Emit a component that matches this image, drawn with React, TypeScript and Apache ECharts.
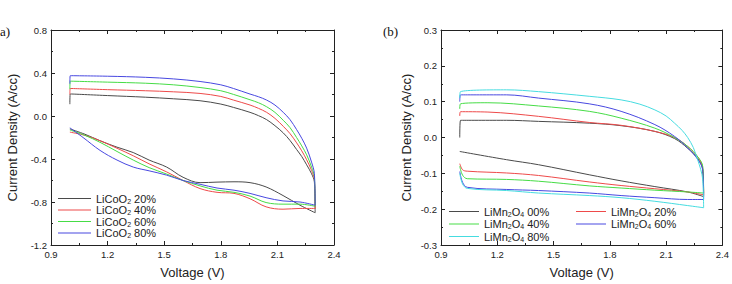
import React, { useEffect, useRef } from "react";
import * as echarts from "echarts";

type Pt = [number, number];

// ---------- (a) LiCoO2 cells: forward sweep 1.0 -> 2.3 V, reverse sweep 2.3 -> 1.0 V ----------
const lco20Fwd: Pt[] = [[1.0, 0.11], [1.002, 0.205], [1.2, 0.19], [1.4, 0.175], [1.55, 0.16], [1.69, 0.142], [1.8, 0.111], [1.867, 0.08], [1.955, 0.034], [2.0, 0.003], [2.043, -0.034], [2.087, -0.09], [2.131, -0.157], [2.167, -0.228], [2.202, -0.312], [2.229, -0.377], [2.255, -0.454], [2.281, -0.537], [2.296, -0.614], [2.3, -0.9]];
const lco20Rev: Pt[] = [[2.22, -0.83], [2.13, -0.74], [2.04, -0.66], [1.955, -0.62], [1.87, -0.612], [1.78, -0.615], [1.69, -0.62], [1.6, -0.57], [1.513, -0.475], [1.42, -0.41], [1.336, -0.34], [1.25, -0.29], [1.16, -0.23], [1.08, -0.17], [1.0, -0.12]];

const lco40Fwd: Pt[] = [[1.0, 0.2], [1.002, 0.256], [1.2, 0.245], [1.4, 0.235], [1.55, 0.225], [1.69, 0.21], [1.8, 0.182], [1.867, 0.148], [1.955, 0.102], [2.0, 0.071], [2.043, 0.034], [2.087, -0.022], [2.131, -0.096], [2.167, -0.164], [2.202, -0.25], [2.229, -0.324], [2.255, -0.407], [2.281, -0.506], [2.296, -0.59], [2.3, -0.86]];
const lco40Rev: Pt[] = [[2.22, -0.86], [2.13, -0.867], [2.04, -0.845], [1.955, -0.77], [1.87, -0.72], [1.78, -0.71], [1.69, -0.675], [1.6, -0.6], [1.513, -0.52], [1.42, -0.445], [1.336, -0.37], [1.25, -0.3], [1.16, -0.23], [1.08, -0.18], [1.0, -0.15]];

const lco60Fwd: Pt[] = [[1.0, 0.25], [1.002, 0.324], [1.2, 0.315], [1.4, 0.305], [1.55, 0.29], [1.69, 0.265], [1.8, 0.235], [1.867, 0.201], [1.955, 0.151], [2.0, 0.123], [2.043, 0.086], [2.087, 0.034], [2.131, -0.04], [2.167, -0.108], [2.202, -0.201], [2.229, -0.278], [2.255, -0.361], [2.281, -0.475], [2.296, -0.568], [2.3, -0.84]];
const lco60Rev: Pt[] = [[2.22, -0.82], [2.13, -0.82], [2.04, -0.805], [1.955, -0.745], [1.87, -0.71], [1.78, -0.69], [1.69, -0.65], [1.6, -0.6], [1.513, -0.54], [1.42, -0.48], [1.336, -0.41], [1.25, -0.33], [1.16, -0.245], [1.08, -0.18], [1.0, -0.13]];

const lco80Fwd: Pt[] = [[1.0, 0.3], [1.002, 0.375], [1.2, 0.37], [1.4, 0.36], [1.55, 0.345], [1.69, 0.321], [1.8, 0.29], [1.867, 0.256], [1.955, 0.204], [2.0, 0.179], [2.043, 0.148], [2.087, 0.102], [2.131, 0.034], [2.167, -0.034], [2.202, -0.127], [2.229, -0.207], [2.255, -0.299], [2.281, -0.429], [2.296, -0.537], [2.3, -0.83]];
const lco80Rev: Pt[] = [[2.22, -0.8], [2.13, -0.79], [2.04, -0.76], [1.955, -0.72], [1.87, -0.69], [1.78, -0.67], [1.69, -0.635], [1.6, -0.6], [1.513, -0.55], [1.42, -0.51], [1.336, -0.475], [1.25, -0.41], [1.16, -0.32], [1.07, -0.2], [1.0, -0.11]];

// ---------- (b) LiMn2O4 cells ----------
const lmo00Fwd: Pt[] = [[1.0, 0.0], [1.004, 0.048], [1.25, 0.048], [1.42, 0.045], [1.69, 0.04], [1.86, 0.033], [2.04, 0.017], [2.145, -0.003], [2.215, -0.03], [2.27, -0.06], [2.295, -0.09], [2.3, -0.165]];
const lmo00Rev: Pt[] = [[2.215, -0.152], [2.04, -0.137], [1.86, -0.121], [1.69, -0.104], [1.42, -0.076], [1.25, -0.062], [1.0, -0.039]];

const lmo20Fwd: Pt[] = [[1.0, 0.06], [1.004, 0.072], [1.15, 0.071], [1.42, 0.059], [1.69, 0.042], [1.86, 0.034], [2.04, 0.017], [2.145, 0.0], [2.215, -0.025], [2.27, -0.055], [2.295, -0.085], [2.3, -0.16]];
const lmo20Rev: Pt[] = [[2.215, -0.152], [2.04, -0.143], [1.86, -0.134], [1.69, -0.124], [1.42, -0.106], [1.25, -0.099], [1.04, -0.094], [1.015, -0.09], [1.0, -0.073]];

const lmo40Fwd: Pt[] = [[1.0, 0.08], [1.004, 0.094], [1.15, 0.097], [1.42, 0.088], [1.69, 0.073], [1.86, 0.054], [2.04, 0.026], [2.145, 0.0], [2.215, -0.025], [2.27, -0.055], [2.295, -0.08], [2.3, -0.155]];
const lmo40Rev: Pt[] = [[2.215, -0.152], [2.04, -0.147], [1.86, -0.141], [1.69, -0.135], [1.42, -0.122], [1.25, -0.117], [1.04, -0.115], [1.015, -0.105], [1.0, -0.08]];

const lmo60Fwd: Pt[] = [[1.0, 0.1], [1.004, 0.119], [1.25, 0.119], [1.42, 0.11], [1.69, 0.094], [1.86, 0.073], [2.04, 0.036], [2.145, 0.003], [2.215, -0.029], [2.27, -0.062], [2.295, -0.09], [2.3, -0.173]];
const lmo60Rev: Pt[] = [[2.215, -0.173], [2.04, -0.168], [1.86, -0.162], [1.69, -0.155], [1.42, -0.148], [1.25, -0.145], [1.04, -0.139], [1.015, -0.125], [1.0, -0.095]];

const lmo80Fwd: Pt[] = [[1.0, 0.11], [1.004, 0.128], [1.25, 0.133], [1.42, 0.128], [1.69, 0.115], [1.86, 0.105], [1.96, 0.093], [2.04, 0.077], [2.1, 0.06], [2.145, 0.04], [2.185, 0.02], [2.215, 0.0], [2.245, -0.028], [2.268, -0.062], [2.285, -0.09], [2.295, -0.117], [2.3, -0.196]];
const lmo80Rev: Pt[] = [[2.215, -0.19], [2.04, -0.178], [1.86, -0.168], [1.69, -0.162], [1.42, -0.155], [1.25, -0.148], [1.04, -0.142], [1.015, -0.13], [1.0, -0.1]];

const SANS = "Liberation Sans, Arial, sans-serif";
const SERIF = "Liberation Serif, Times New Roman, serif";
const INK = "#222";

const C_BLACK = "#4a4a4a";
const C_RED = "#ee4a4a";
const C_GREEN = "#46dc46";
const C_BLUE = "#4848e0";
const C_CYAN = "#46dce0";

function loop(name: string, color: string, fwd: Pt[], rev: Pt[], axis: number) {
  return {
    type: "line",
    name,
    xAxisIndex: axis * 2,
    yAxisIndex: axis * 2,
    data: [...fwd, ...rev],
    symbol: "none",
    showSymbol: false,
    smooth: 0.35,
    lineStyle: { color, width: 1 },
    itemStyle: { color },
  };
}

// subscripted chemical formula for legend entries
function formula(name: string) {
  const parts = name.split(/(\d)(?=[A-Z ])/);
  return parts
    .map((p, i) => (i % 2 === 1 ? `{s|${p}}` : `{a|${p}}`))
    .join("");
}

const rich = {
  a: { fontSize: 11, lineHeight: 12, color: INK, fontFamily: SANS },
  s: { fontSize: 7, lineHeight: 8, color: INK, fontFamily: SANS, verticalAlign: "bottom" },
};

function xAxes(grid: number) {
  const common = {
    gridIndex: grid,
    type: "value",
    min: 0.9,
    max: 2.4,
    interval: 0.3,
    axisLine: { onZero: false, lineStyle: { color: INK, width: 1 } },
    axisTick: { inside: true, length: 4, lineStyle: { color: INK } },
    minorTick: { show: true, splitNumber: 2, length: 2, lineStyle: { color: INK } },
    splitLine: { show: false },
  };
  return [
    {
      ...common,
      position: "bottom",
      name: "Voltage (V)",
      nameLocation: "middle",
      nameGap: 21,
      nameTextStyle: { fontSize: 13, color: INK, fontFamily: SANS },
      axisLabel: { fontSize: 9.5, color: INK, fontFamily: SANS, margin: 4, formatter: (v: number) => v.toFixed(1) },
    },
    { ...common, position: "top", axisLabel: { show: false } },
  ];
}

function yAxes(grid: number, min: number, max: number, interval: number, gap: number) {
  const common = {
    gridIndex: grid,
    type: "value",
    min,
    max,
    interval,
    axisLine: { onZero: false, lineStyle: { color: INK, width: 1 } },
    axisTick: { inside: true, length: 4, lineStyle: { color: INK } },
    minorTick: { show: true, splitNumber: 2, length: 2, lineStyle: { color: INK } },
    splitLine: { show: false },
  };
  return [
    {
      ...common,
      position: "left",
      name: "Current Density (A/cc)",
      nameLocation: "middle",
      nameGap: gap,
      nameTextStyle: { fontSize: 13, color: INK, fontFamily: SANS },
      axisLabel: { fontSize: 9.5, color: INK, fontFamily: SANS, margin: 4, formatter: (v: number) => v.toFixed(1) },
    },
    { ...common, position: "right", axisLabel: { show: false } },
  ];
}

function legend(names: string[], left: number, top: number, itemWidth: number, gap: number) {
  return {
    orient: "vertical",
    left,
    top,
    data: names.map((n) => ({ name: n, icon: "rect" })),
    itemWidth,
    itemHeight: 1,
    itemGap: gap,
    padding: 0,
    selectedMode: false,
    formatter: formula,
    textStyle: { rich, padding: [0, 0, 0, 0] },
  };
}

export default function App() {
  const ref = useRef<HTMLDivElement>(null);

  useEffect(() => {
    if (!ref.current) return;
    const chart = echarts.init(ref.current, undefined, { renderer: "svg" });
    chart.setOption({
      animation: false,
      backgroundColor: "#fff",
      grid: [
        { left: 51, right: 398, top: 30, bottom: 38 },
        { left: 441, right: 7, top: 30, bottom: 38 },
      ],
      xAxis: [...xAxes(0), ...xAxes(1)],
      yAxis: [...yAxes(0, -1.2, 0.8, 0.4, 32), ...yAxes(1, -0.3, 0.3, 0.1, 28)],
      legend: [
        legend(["LiCoO2 20%", "LiCoO2 40%", "LiCoO2 60%", "LiCoO2 80%"], 58, 193, 33, 0),
        legend(["LiMn2O4 00%", "LiMn2O4 40%", "LiMn2O4 80%"], 449, 206, 30, 1),
        legend(["LiMn2O4 20%", "LiMn2O4 60%"], 576, 206, 30, 1),
      ],
      graphic: [
        { type: "text", left: 0, top: 25, style: { text: "a)", fontSize: 13, fontFamily: SERIF, fill: "#111" } },
        { type: "text", left: 383, top: 25, style: { text: "(b)", fontSize: 13, fontFamily: SERIF, fill: "#111" } },
      ],
      series: [
        loop("LiCoO2 20%", C_BLACK, lco20Fwd, lco20Rev, 0),
        loop("LiCoO2 40%", C_RED, lco40Fwd, lco40Rev, 0),
        loop("LiCoO2 60%", C_GREEN, lco60Fwd, lco60Rev, 0),
        loop("LiCoO2 80%", C_BLUE, lco80Fwd, lco80Rev, 0),
        loop("LiMn2O4 00%", C_BLACK, lmo00Fwd, lmo00Rev, 1),
        loop("LiMn2O4 20%", C_RED, lmo20Fwd, lmo20Rev, 1),
        loop("LiMn2O4 40%", C_GREEN, lmo40Fwd, lmo40Rev, 1),
        loop("LiMn2O4 60%", C_BLUE, lmo60Fwd, lmo60Rev, 1),
        loop("LiMn2O4 80%", C_CYAN, lmo80Fwd, lmo80Rev, 1),
      ],
    });
    return () => chart.dispose();
  }, []);

  return <div ref={ref} style={{ width: 732, height: 284, position: "fixed", left: 0, top: 0 }} />;
}
